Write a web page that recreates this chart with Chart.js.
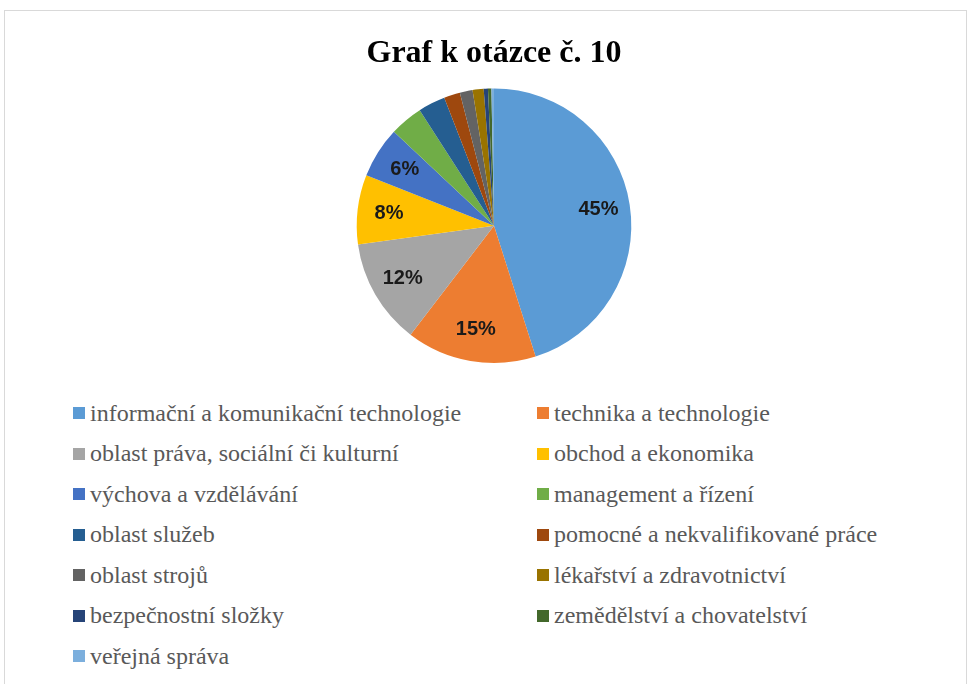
<!DOCTYPE html>
<html>
<head>
<meta charset="utf-8">
<script src="https://cdn.jsdelivr.net/npm/chart.js@4.4.1/dist/chart.umd.min.js"></script>
<style>
  html, body { margin: 0; padding: 0; background: #fff; }
  body { width: 970px; height: 684px; position: relative; overflow: hidden; }
  #frame { position: absolute; left: 4px; top: 10px; width: 963px; height: 700px; border: 1px solid #d9d9d9; box-sizing: border-box; }
  #chartBox { position: absolute; left: 0; top: 0; width: 970px; height: 380px; }
  #legend { position: absolute; left: 73px; top: 399px; display: grid; grid-template-columns: 464px 400px; grid-auto-rows: 40.5px; }
  .item { display: flex; align-items: center; font-family: "Liberation Serif", "Times New Roman", serif; font-size: 24px; color: #595959; white-space: nowrap; height: 28px; }
  .item span.box { display: inline-block; width: 12px; height: 12px; margin-right: 5px; }
</style>
</head>
<body>
<div id="frame"></div>
<div id="chartBox"><canvas id="mycanvas"></canvas></div>
<div id="legend"></div>
<script>
var categories = [
  "informační a komunikační technologie",
  "technika a technologie",
  "oblast práva, sociální či kulturní",
  "obchod a ekonomika",
  "výchova a vzdělávání",
  "management a řízení",
  "oblast služeb",
  "pomocné a nekvalifikované práce",
  "oblast strojů",
  "lékařství a zdravotnictví",
  "bezpečnostní složky",
  "zemědělství a chovatelství",
  "veřejná správa"
];
var shares = [45.1, 15.3, 12.4, 8.2, 6.0, 3.9, 3.2, 1.9, 1.5, 1.3, 0.5, 0.4, 0.3];
var shownLabels = ["45%", "15%", "12%", "8%", "6%"];
var colors = ["#5B9BD5", "#ED7D31", "#A5A5A5", "#FFC000", "#4472C4", "#70AD47",
              "#255E91", "#9E480E", "#636363", "#997300", "#264478", "#43682B", "#7CAFDD"];

// percent labels drawn inside the big slices
var sliceLabels = {
  id: 'sliceLabels',
  afterDatasetsDraw: function (chart) {
    var ctx = chart.ctx;
    var arcs = chart.getDatasetMeta(0).data;
    ctx.save();
    ctx.font = "bold 20px 'Liberation Sans', Arial, sans-serif";
    ctx.fillStyle = "#1a1a1a";
    ctx.textAlign = "center";
    ctx.textBaseline = "middle";
    for (var i = 0; i < shownLabels.length; i++) {
      var p = arcs[i].getProps(['x', 'y', 'startAngle', 'endAngle', 'outerRadius'], true);
      var mid = (p.startAngle + p.endAngle) / 2;
      var d = p.outerRadius * 0.77;
      ctx.fillText(shownLabels[i], p.x + Math.cos(mid) * d, p.y + Math.sin(mid) * d);
    }
    ctx.restore();
  }
};

var ctx = document.getElementById("mycanvas");
var chart = new Chart(ctx, {
  type: 'pie',
  data: {
    labels: categories,
    datasets: [{
      data: shares,
      backgroundColor: colors,
      borderWidth: 0
    }]
  },
  options: {
    responsive: true,
    maintainAspectRatio: false,
    animation: false,
    layout: { padding: { top: 18, bottom: 17, left: 18, right: 0 } },
    plugins: {
      legend: { display: false },
      tooltip: { enabled: false },
      title: {
        display: true,
        text: "Graf k otázce č. 10",
        color: "#000",
        font: { family: "'Liberation Serif', 'Times New Roman', serif", size: 32, weight: 'bold', lineHeight: 1.2 },
        padding: { top: 17, bottom: 15 }
      }
    }
  },
  plugins: [sliceLabels]
});

// html legend in two columns
var legend = document.getElementById("legend");
chart.options.plugins.legend.labels.generateLabels(chart).forEach(function (item) {
  var div = document.createElement("div");
  div.className = "item";
  var box = document.createElement("span");
  box.className = "box";
  box.style.background = item.fillStyle;
  div.appendChild(box);
  div.appendChild(document.createTextNode(item.text));
  legend.appendChild(div);
});
</script>
</body>
</html>
